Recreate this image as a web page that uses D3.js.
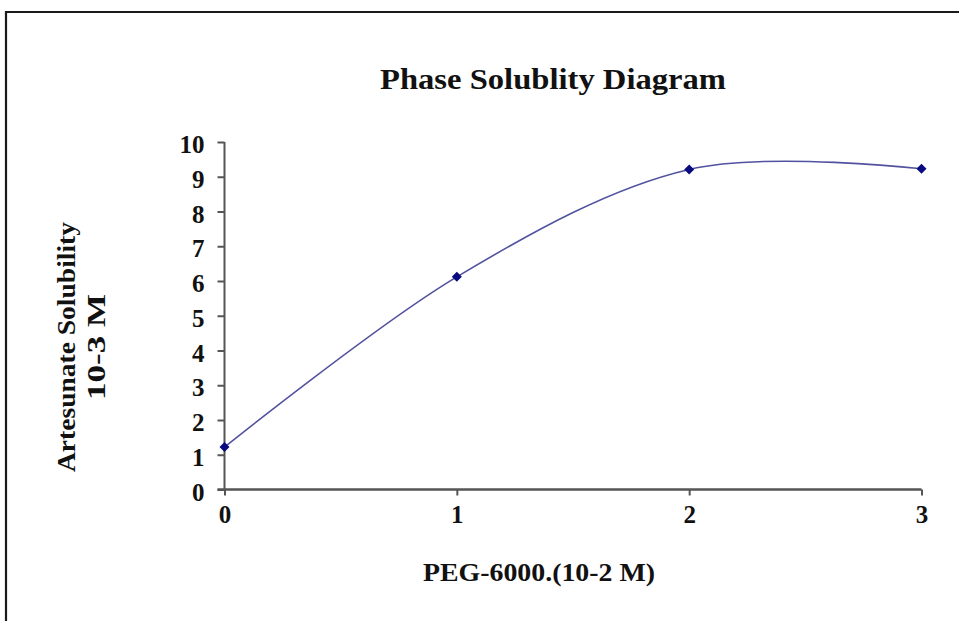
<!DOCTYPE html>
<html>
<head>
<meta charset="utf-8">
<script src="https://cdn.jsdelivr.net/npm/d3@7"></script>
<style>
  html, body { margin: 0; padding: 0; background: #fff; }
  svg { display: block; }
  text { font-family: "Liberation Serif", "Times New Roman", serif; font-weight: bold; fill: #111; }
</style>
</head>
<body>
<svg id="chart" width="959" height="621"></svg>
<script>
// PEG-6000 concentration (10^-2 M) and measured artesunate solubility (10^-3 M)
const pegConc = [0, 1, 2, 3];
const solubility = [1.22, 6.12, 9.21, 9.23];
const xTicks = [0, 1, 2, 3];
const yTicks = [0, 1, 2, 3, 4, 5, 6, 7, 8, 9, 10];

const W = 959, H = 621;
const svg = d3.select("#chart");

// outer frame (open on the right and bottom edges of the page)
svg.append("path")
  .attr("d", `M6,${H + 2} L6,12 L${W + 2},12`)
  .attr("fill", "none")
  .attr("stroke", "#1a1a1a")
  .attr("stroke-width", 2.2);

const x = d3.scaleLinear().domain([0, 3]).range([224.5, 921.5]);
const y = d3.scaleLinear().domain([0, 10]).range([489.5, 142]);

const axisColor = "#555";

// y axis
const yAxis = svg.append("g")
  .attr("transform", `translate(${x(0)},0)`)
  .call(d3.axisLeft(y).tickValues(yTicks).tickSize(7).tickPadding(13).tickFormat(d3.format("d")));
yAxis.select(".domain").attr("stroke", axisColor).attr("stroke-width", 2).attr("d", `M0,${y(0)}V${y(10)}`);
yAxis.selectAll(".tick line").attr("stroke", axisColor).attr("stroke-width", 2);
yAxis.selectAll(".tick text")
  .attr("font-size", 25).attr("font-family", "Liberation Serif, serif").attr("font-weight", "bold")
  .attr("fill", "#111").attr("dy", "0.42em");

// x axis
const xAxis = svg.append("g")
  .attr("transform", `translate(0,${y(0)})`)
  .call(d3.axisBottom(x).tickValues(xTicks).tickSize(6).tickPadding(10).tickFormat(d3.format("d")));
xAxis.select(".domain").attr("stroke", axisColor).attr("stroke-width", 2.5).attr("d", `M${x(0) - 7},0H${x(3)}`);
xAxis.selectAll(".tick line").attr("stroke", axisColor).attr("stroke-width", 2);
xAxis.selectAll(".tick text")
  .attr("font-size", 25).attr("font-family", "Liberation Serif, serif").attr("font-weight", "bold")
  .attr("fill", "#111");

// smoothed data line
const pts = pegConc.map((c, i) => [c, solubility[i]]);
const line = d3.line()
  .x(d => x(d[0]))
  .y(d => y(d[1]))
  .curve(d3.curveCardinal.tension(0));
svg.append("path")
  .datum(pts)
  .attr("d", line)
  .attr("fill", "none")
  .attr("stroke", "#5252a0")
  .attr("stroke-width", 1.6);

// diamond markers
svg.selectAll(".marker")
  .data(pts)
  .enter().append("path")
  .attr("class", "marker")
  .attr("transform", d => `translate(${x(d[0])},${y(d[1])})`)
  .attr("d", "M0,-5L5,0L0,5L-5,0Z")
  .attr("fill", "#0a0a80");

// title
svg.append("text")
  .attr("x", 553).attr("y", 89)
  .attr("text-anchor", "middle")
  .attr("font-size", 29)
  .attr("textLength", 346)
  .attr("lengthAdjust", "spacingAndGlyphs")
  .text("Phase Solublity Diagram");

// x axis title
svg.append("text")
  .attr("x", 539).attr("y", 581)
  .attr("text-anchor", "middle")
  .attr("font-size", 25)
  .attr("textLength", 232)
  .attr("lengthAdjust", "spacingAndGlyphs")
  .text("PEG-6000.(10-2 M)");

// y axis title (two lines, rotated)
const yt = svg.append("g").attr("transform", "translate(75,347) rotate(-90)");
yt.append("text")
  .attr("x", 0).attr("y", 0)
  .attr("text-anchor", "middle")
  .attr("font-size", 25)
  .attr("textLength", 250)
  .attr("lengthAdjust", "spacingAndGlyphs")
  .text("Artesunate Solubility");
yt.append("text")
  .attr("x", 0).attr("y", 30)
  .attr("text-anchor", "middle")
  .attr("font-size", 25)
  .attr("textLength", 106)
  .attr("lengthAdjust", "spacingAndGlyphs")
  .text("10-3 M");
</script>
</body>
</html>
